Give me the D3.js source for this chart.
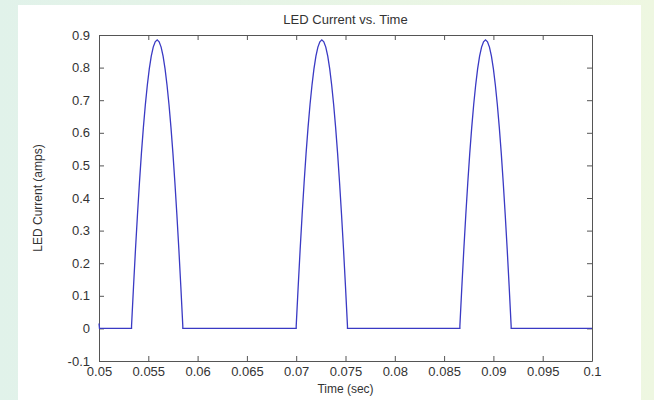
<!DOCTYPE html>
<html>
<head>
<meta charset="utf-8">
<script src="https://cdn.jsdelivr.net/npm/d3@7"></script>
<style>
  body { margin: 0; }
  text { font-family: 'Liberation Sans', Arial, Helvetica, sans-serif; fill: #333; }
  .axis path, .axis line { stroke: #555; }
</style>
</head>
<body>
<div id="chart"></div>
<script>
// time (sec) and LED current (amps)
const timeSec = [
  0.05, 0.05005, 0.0533,
  0.0533, 0.0535, 0.0537, 0.0539, 0.0541, 0.0543, 0.0545, 0.0547, 0.0549, 0.0551, 0.0553, 0.0555, 0.0557,
  0.0559, 0.0561, 0.0563, 0.0565, 0.0567, 0.0569, 0.0571, 0.0573, 0.0575, 0.0577, 0.0579, 0.0581, 0.0583, 0.0585,
  0.0585, 0.0700,
  0.0700, 0.0702, 0.0704, 0.0706, 0.0708, 0.0710, 0.0712, 0.0714, 0.0716, 0.0718, 0.0720, 0.0722, 0.0724,
  0.0726, 0.0728, 0.0730, 0.0732, 0.0734, 0.0736, 0.0738, 0.0740, 0.0742, 0.0744, 0.0746, 0.0748, 0.0750, 0.0752,
  0.0752, 0.0866,
  0.0866, 0.0868, 0.0870, 0.0872, 0.0874, 0.0876, 0.0878, 0.0880, 0.0882, 0.0884, 0.0886, 0.0888, 0.0890,
  0.0892, 0.0894, 0.0896, 0.0898, 0.0900, 0.0902, 0.0904, 0.0906, 0.0908, 0.0910, 0.0912, 0.0914, 0.0916, 0.0918,
  0.0918, 0.1
]

const currentAmps = [
  0.015, 0, 0,
  0.007, 0.128, 0.242, 0.348, 0.446, 0.536, 0.616, 0.686, 0.746, 0.796, 0.835, 0.863, 0.879,
  0.885, 0.879, 0.863, 0.835, 0.796, 0.746, 0.686, 0.616, 0.536, 0.446, 0.348, 0.242, 0.128, 0.007,
  0, 0,
  0.007, 0.128, 0.242, 0.348, 0.446, 0.536, 0.616, 0.686, 0.746, 0.796, 0.835, 0.863, 0.879,
  0.885, 0.879, 0.863, 0.835, 0.796, 0.746, 0.686, 0.616, 0.536, 0.446, 0.348, 0.242, 0.128, 0.007,
  0, 0,
  0.007, 0.128, 0.242, 0.348, 0.446, 0.536, 0.616, 0.686, 0.746, 0.796, 0.835, 0.863, 0.879,
  0.885, 0.879, 0.863, 0.835, 0.796, 0.746, 0.686, 0.616, 0.536, 0.446, 0.348, 0.242, 0.128, 0.007,
  0, 0
]

const xTicks = [0.05, 0.055, 0.06, 0.065, 0.07, 0.075, 0.08, 0.085, 0.09, 0.095, 0.1]
const xTickLabels = ['0.05', '0.055', '0.06', '0.065', '0.07', '0.075', '0.08', '0.085', '0.09', '0.095', '0.1']
const yTicks = [-0.1, 0, 0.1, 0.2, 0.3, 0.4, 0.5, 0.6, 0.7, 0.8, 0.9]
const yTickLabels = ['-0.1', '0', '0.1', '0.2', '0.3', '0.4', '0.5', '0.6', '0.7', '0.8', '0.9']

const W = 654
const H = 400

const margin = {
  top: 35,
  right: 62,
  bottom: 39,
  left: 99
}

const width = W - margin.left - margin.right
const height = H - margin.top - margin.bottom

const root = d3
  .select('#chart')
  .append('svg')
  .attr('width', W)
  .attr('height', H)

// slide-like backdrop
const grad = root.append('defs')
  .append('linearGradient')
  .attr('id', 'bg')
  .attr('x1', '0%').attr('y1', '0%')
  .attr('x2', '100%').attr('y2', '0%')
grad.append('stop').attr('offset', '0%').attr('stop-color', '#e1f2ea')
grad.append('stop').attr('offset', '100%').attr('stop-color', '#eef7e1')

root.append('rect').attr('width', W).attr('height', H).attr('fill', 'url(#bg)')
root.append('rect')
  .attr('x', 18).attr('y', 5)
  .attr('width', 623).attr('height', H - 5)
  .attr('fill', '#ffffff')

const svg = root
  .append('g')
  .attr('transform', 'translate(' + margin.left + ',' + margin.top + ')')

const xPositionScale = d3
  .scaleLinear()
  .domain([0.05, 0.1])
  .range([0, width])

const yPositionScale = d3
  .scaleLinear()
  .domain([-0.1, 0.9])
  .range([height, 0])

// axes with inward ticks on all four sides, matlab style
const xAxis = d3.axisBottom(xPositionScale)
  .tickValues(xTicks)
  .tickFormat((d, i) => xTickLabels[i])
  .tickSizeInner(-5)
  .tickSizeOuter(0)
  .tickPadding(6)

const yAxis = d3.axisLeft(yPositionScale)
  .tickValues(yTicks)
  .tickFormat((d, i) => yTickLabels[i])
  .tickSizeInner(-5)
  .tickSizeOuter(0)
  .tickPadding(9)

svg.append('g')
  .attr('class', 'axis x-axis')
  .attr('transform', 'translate(0,' + height + ')')
  .call(xAxis)

svg.append('g')
  .attr('class', 'axis y-axis')
  .call(yAxis)

svg.append('g')
  .attr('class', 'axis')
  .call(d3.axisTop(xPositionScale).tickValues(xTicks).tickFormat('').tickSizeInner(-5).tickSizeOuter(0))

svg.append('g')
  .attr('class', 'axis')
  .attr('transform', 'translate(' + width + ',0)')
  .call(d3.axisRight(yPositionScale).tickValues(yTicks).tickFormat('').tickSizeInner(-5).tickSizeOuter(0))

svg.selectAll('.axis text')
  .style('font-size', '13px')
  .style('font-family', "'Liberation Sans', Arial, sans-serif")
  .attr('fill', '#333')

// the signal
const points = timeSec.map((t, i) => ({ t: t, a: currentAmps[i] }))

const line = d3.line()
  .x(d => xPositionScale(d.t))
  .y(d => yPositionScale(d.a))

svg.append('path')
  .datum(points)
  .attr('d', line)
  .attr('fill', 'none')
  .attr('stroke', '#3a3ac4')
  .attr('stroke-width', 1.3)

// labels
svg.append('text')
  .attr('x', width / 2)
  .attr('y', -11)
  .attr('text-anchor', 'middle')
  .style('font-size', '13px')
  .text('LED Current vs. Time')

svg.append('text')
  .attr('x', width / 2)
  .attr('y', height + 32)
  .attr('text-anchor', 'middle')
  .style('font-size', '12px')
  .text('Time (sec)')

svg.append('text')
  .attr('transform', 'translate(-57,' + height / 2 + ') rotate(-90)')
  .attr('text-anchor', 'middle')
  .style('font-size', '12px')
  .text('LED Current (amps)')
</script>
</body>
</html>
